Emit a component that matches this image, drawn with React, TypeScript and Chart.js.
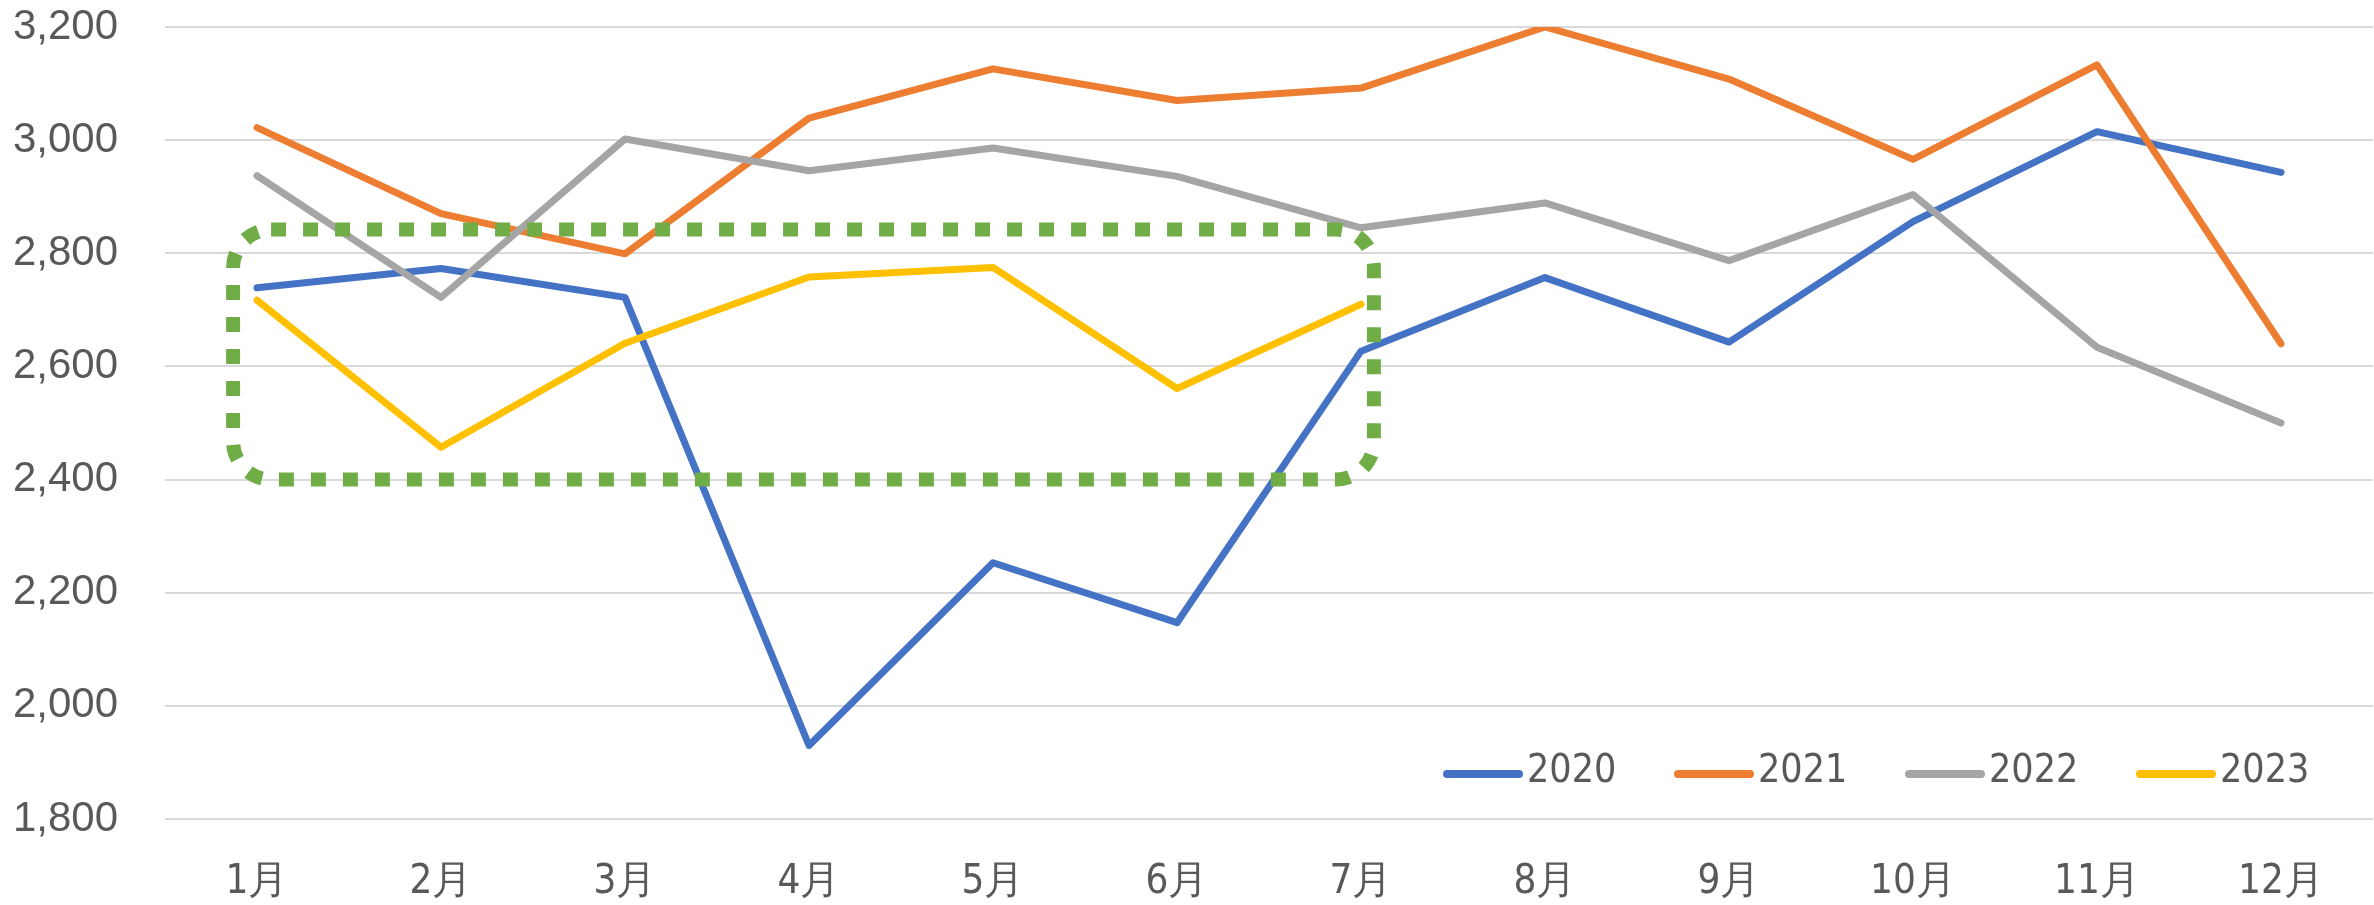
import React, { useEffect, useRef } from "react";
import { Chart, registerables } from "chart.js";

Chart.register(...registerables);

const months = ["1月", "2月", "3月", "4月", "5月", "6月", "7月", "8月", "9月", "10月", "11月", "12月"];
const seriesLabels = ["2020", "2021", "2022", "2023"];
const values2020 = [2739, 2773, 2722, 1930, 2253, 2147, 2627, 2757, 2643, 2856, 3015, 2943];
const values2021 = [3022, 2870, 2799, 3039, 3126, 3070, 3092, 3200, 3108, 2966, 3133, 2640];
const values2022 = [2937, 2722, 3002, 2946, 2986, 2936, 2845, 2889, 2787, 2904, 2634, 2500];
const values2023 = [2717, 2457, 2641, 2758, 2775, 2561, 2710, null, null, null, null, null];
const seriesColors = ["#4472C4", "#ED7D31", "#A5A5A5", "#FFC000"];
const yMin = 1800;
const yMax = 3200;
const yStep = 200;
// highlighted region: category index range and value range
const highlightRange = { fromIndex: -0.13, toIndex: 6.07, low: 2400, high: 2842 };

const TEXT = "#595959";
const NARROW = '"Liberation Sans Narrow", "DejaVu Sans Condensed", "Liberation Sans", sans-serif';

const highlightPlugin = {
  id: "highlightBox",
  afterDatasetsDraw(chart: any) {
    const { ctx, scales } = chart;
    const x = scales.x, y = scales.y;
    const x0 = x.getPixelForValue(highlightRange.fromIndex);
    const x1 = x.getPixelForValue(highlightRange.toIndex);
    const y0 = y.getPixelForValue(highlightRange.high);
    const y1 = y.getPixelForValue(highlightRange.low);
    ctx.save();
    ctx.strokeStyle = "#70AD47";
    ctx.lineWidth = 14;
    ctx.setLineDash([15, 17]);
    ctx.lineCap = "butt";
    ctx.beginPath();
    (ctx as any).roundRect(x0, y0, x1 - x0, y1 - y0, 38);
    ctx.stroke();
    ctx.restore();
  },
};

const legendPlugin = {
  id: "insideLegend",
  afterDraw(chart: any) {
    const { ctx } = chart;
    const startX = 1443;
    const yC = 774;
    const spacing = 231;
    ctx.save();
    chart.data.datasets.forEach((ds: any, i: number) => {
      const x = startX + i * spacing;
      ctx.strokeStyle = ds.borderColor;
      ctx.lineWidth = 8;
      ctx.lineCap = "round";
      ctx.beginPath();
      ctx.moveTo(x + 4, yC);
      ctx.lineTo(x + 76, yC);
      ctx.stroke();
      ctx.fillStyle = TEXT;
      ctx.font = `39px ${NARROW}`;
      ctx.textBaseline = "middle";
      ctx.textAlign = "left";
      ctx.fillText(ds.label, x + 84, yC - 2);
    });
    ctx.restore();
  },
};

export default function App() {
  const canvasRef = useRef<HTMLCanvasElement>(null);

  useEffect(() => {
    const canvas = canvasRef.current;
    if (!canvas) return;
    const allValues = [values2020, values2021, values2022, values2023];
    const chart = new Chart(canvas, {
      type: "line",
      data: {
        labels: months,
        datasets: seriesLabels.map((label, i) => ({
          label,
          data: allValues[i],
          borderColor: seriesColors[i],
          backgroundColor: seriesColors[i],
          borderWidth: 7,
          pointRadius: 0,
          pointHoverRadius: 0,
          tension: 0,
          fill: false,
          borderJoinStyle: "round" as const,
          borderCapStyle: "round" as const,
          order: seriesLabels.length - i,
        })),
      },
      options: {
        responsive: false,
        animation: false,
        devicePixelRatio: 1,
        events: [],
        layout: { padding: { top: 27, right: 1, bottom: 0, left: 0 } },
        plugins: {
          legend: { display: false },
          tooltip: { enabled: false },
        },
        scales: {
          x: {
            type: "category",
            offset: true,
            grid: { display: false, drawTicks: false },
            border: { display: false },
            ticks: {
              color: TEXT,
              font: { size: 40, family: NARROW },
              padding: 40,
              maxRotation: 0,
              autoSkip: false,
            },
            afterFit(scale: any) {
              scale.height = 86;
              scale.paddingLeft = 0;
              scale.paddingRight = 0;
            },
          },
          y: {
            min: yMin,
            max: yMax,
            grid: { color: "#D9D9D9", lineWidth: 2, drawTicks: false },
            border: { display: false },
            ticks: {
              stepSize: yStep,
              color: TEXT,
              font: { size: 42, family: '"Liberation Sans", Arial, sans-serif' },
              padding: 47,
              callback: (v: any) => Number(v).toLocaleString("en-US"),
            },
            afterFit(scale: any) {
              scale.width = 165;
              scale.paddingTop = 0;
              scale.paddingBottom = 0;
            },
          },
        },
      },
      plugins: [highlightPlugin, legendPlugin],
    });
    return () => chart.destroy();
  }, []);

  return (
    <div style={{ position: "fixed", left: 0, top: 0, width: 2374, height: 905, background: "#fff" }}>
      <canvas ref={canvasRef} width={2374} height={905} style={{ width: 2374, height: 905, display: "block" }} />
    </div>
  );
}
